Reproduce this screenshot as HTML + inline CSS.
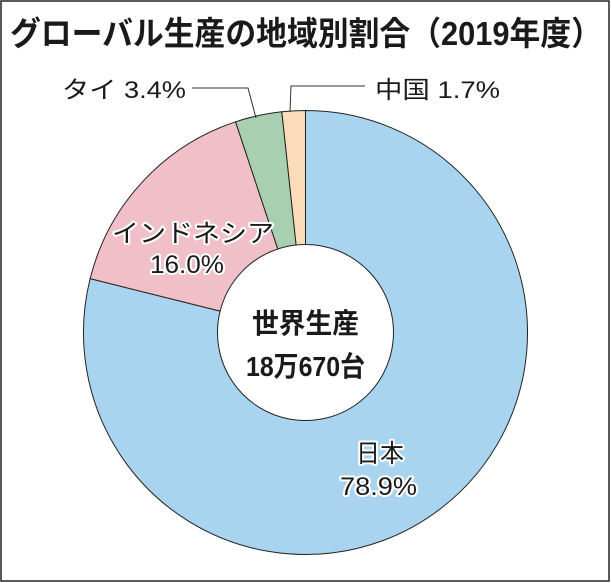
<!DOCTYPE html>
<html><head><meta charset="utf-8"><style>html,body{margin:0;padding:0;background:#fff}svg{display:block}</style></head>
<body>
<svg width="611" height="583" viewBox="0 0 611 583" xmlns="http://www.w3.org/2000/svg" font-family="'Liberation Sans','Noto Sans CJK JP',sans-serif">
<rect x="1" y="1" width="608" height="580" fill="#fff" stroke="#222" stroke-width="1.5"/>
<text x="10" y="45" font-size="33" font-weight="bold" fill="#1a1a1a" textLength="592" lengthAdjust="spacingAndGlyphs">グローバル生産の地域別割合（2019年度）</text>
<g id="donut" stroke="#222" stroke-width="1"></g>
<g stroke="#333" stroke-width="1" fill="none">
<polyline points="192,88 248,88 256,118"/>
<polyline points="290,112 291,86 365,86"/>
</g>
<text x="62" y="98" font-size="24" fill="#1a1a1a" textLength="124" lengthAdjust="spacingAndGlyphs">タイ 3.4%</text>
<text x="375" y="98" font-size="24" fill="#1a1a1a" textLength="125" lengthAdjust="spacingAndGlyphs">中国 1.7%</text>
<g font-size="25" fill="#1a1a1a" stroke="#fff" stroke-width="4" paint-order="stroke" stroke-linejoin="round" lengthAdjust="spacingAndGlyphs">
<text x="112" y="242" textLength="162" lengthAdjust="spacingAndGlyphs">インドネシア</text>
<text x="150" y="273" textLength="74" lengthAdjust="spacingAndGlyphs">16.0%</text>
<text x="356" y="462" textLength="48" lengthAdjust="spacingAndGlyphs">日本</text>
<text x="340" y="495" textLength="77" lengthAdjust="spacingAndGlyphs">78.9%</text>
</g>
<g font-size="28" font-weight="bold" fill="#1a1a1a">
<text x="252" y="333" textLength="107" lengthAdjust="spacingAndGlyphs">世界生産</text>
<text x="246" y="376" textLength="119" lengthAdjust="spacingAndGlyphs">18万670台</text>
</g>
<script>
(function(){
var cx=305.5,cy=332.5,R=222,r=88;
var segs=[[0,78.9,'#a9d4ef'],[78.9,94.9,'#f1bfc7'],[94.9,98.3,'#a9cfb1'],[98.3,100,'#fbdcb8']];
var g=document.getElementById('donut');
function pt(p,rad){var a=p/100*2*Math.PI;return [cx+rad*Math.sin(a),cy-rad*Math.cos(a)];}
segs.forEach(function(s){
var a=pt(s[0],R),b=pt(s[1],R),c=pt(s[1],r),d=pt(s[0],r);
var large=(s[1]-s[0])>50?1:0;
var p=document.createElementNS('http://www.w3.org/2000/svg','path');
p.setAttribute('d','M'+a[0]+','+a[1]+' A'+R+','+R+' 0 '+large+' 1 '+b[0]+','+b[1]+' L'+c[0]+','+c[1]+' A'+r+','+r+' 0 '+large+' 0 '+d[0]+','+d[1]+' Z');
p.setAttribute('fill',s[2]);
g.appendChild(p);
});
})();
</script>
</svg>
</body></html>
